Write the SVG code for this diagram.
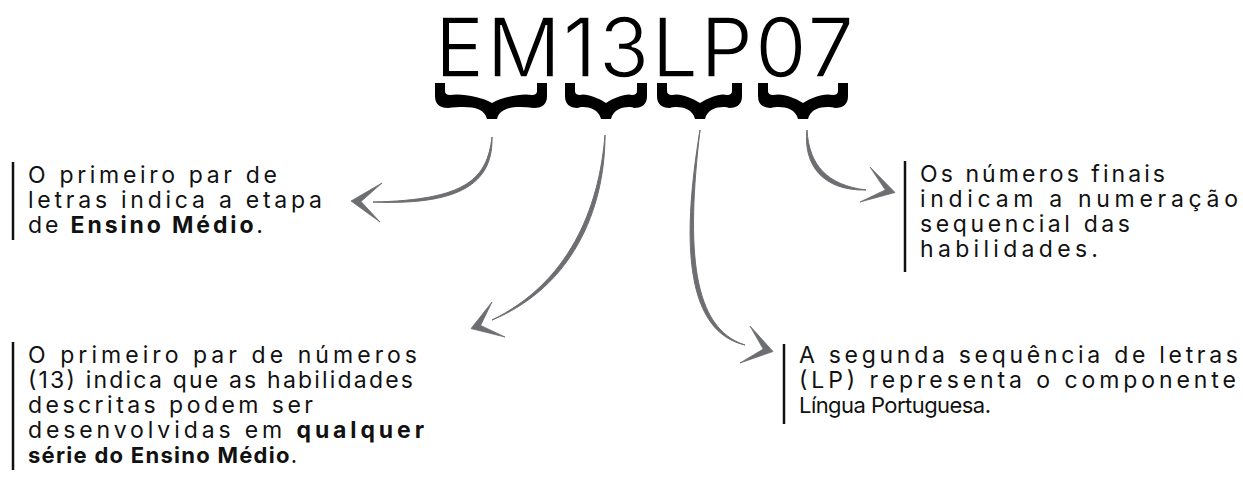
<svg xmlns="http://www.w3.org/2000/svg" width="1243" height="477" viewBox="0 0 1243 477">
  <style>
    .t { font-family: "Inter", "Liberation Sans", sans-serif; font-size: 23px; fill: #111; }
    .b { font-weight: 700; }
    .s { font-size: 22px; }
    .title { font-family: "Inter", "Liberation Sans", sans-serif; font-size: 82px; fill: #000; stroke: #fff; stroke-width: 1.6; }
    .brace { fill: #000; }
    .bar { stroke: #111; stroke-width: 2.5; }
    .shaft { fill: #6d6e71; stroke: #6d6e71; stroke-width: 1; stroke-linejoin: round; }
    .head { fill: #6d6e71; stroke: #6d6e71; stroke-width: 0.8; stroke-linejoin: round; }
  </style>
  <rect width="1243" height="477" fill="#fff"/>

  <g id="title">
    <text class="title" x="435" y="77" textLength="419" lengthAdjust="spacing">EM13LP07</text>
  </g>

  <g id="braces">
    <path class="brace" d="M435 83 H445 V91 Q445 95 450 95 C462 93 482 97 492 103 C502 97 522 93 532 95 Q537 95 537 91 V83 H547 V96 Q547 108 534 108 C517 106 500 106 497 119 H487 C484 106 467 106 448 108 Q435 108 435 96 Z"/>
    <path class="brace" d="M565 83 H575 V91 Q575 95 580 95 C585 93 597 97 606 103 C615 97 627 93 632 95 Q637 95 637 91 V83 H647 V96 Q647 108 634 108 C631 106 614 106 611 119 H601 C598 106 581 106 578 108 Q565 108 565 96 Z"/>
    <path class="brace" d="M657 83 H667 V91 Q667 95 672 95 C680 93 690 97 700 103 C710 97 720 93 727 95 Q732 95 732 91 V83 H742 V96 Q742 108 729 108 C725 106 708 106 705 119 H695 C692 106 675 106 670 108 Q657 108 657 96 Z"/>
    <path class="brace" d="M758 83 H768 V91 Q768 95 773 95 C783 93 793 97 803 103 C813 97 823 93 833 95 Q838 95 838 91 V83 H848 V96 Q848 108 835 108 C828 106 811 106 808 119 H798 C795 106 778 106 771 108 Q758 108 758 96 Z"/>
  </g>

  <g id="connectors">
    <path class="shaft" d="M492 137 C493 178 468 206 373 202 C468 200 487 178 492 137 Z"/>
    <path class="head" d="M382 183 L351 201 L380 222 L361 201.5 Z"/>

    <path class="shaft" d="M605 135 C605 210 572 287 492 320 C568 283 599 210 605 135 Z"/>
    <path class="head" d="M492 302 L471 328.6 L505 337 L480.6 325.4 Z"/>

    <path class="shaft" d="M700 130 C680 250 688 332 745 345 C692 328 686 250 700 130 Z"/>
    <path class="head" d="M750 326 L773 351.5 L740 363 L763.2 349.1 Z"/>

    <path class="shaft" d="M807 130 C803 165 823 191 866 190 C827 185 809 165 807 130 Z"/>
    <path class="head" d="M870 167 L895 192.5 L860 202 L885.3 189.9 Z"/>
  </g>

  <g id="node-em">
    <line class="bar" x1="13" y1="162" x2="13" y2="240"/>
    <text class="t" x="28" y="183" textLength="249" lengthAdjust="spacing">O primeiro par de</text>
    <text class="t" x="28" y="208" textLength="294" lengthAdjust="spacing">letras indica a etapa</text>
    <text class="t" x="28" y="233" textLength="235" lengthAdjust="spacing">de <tspan class="b">Ensino Médio</tspan>.</text>
  </g>

  <g id="node-07">
    <line class="bar" x1="905" y1="161" x2="905" y2="272"/>
    <text class="t" x="920" y="182" textLength="245" lengthAdjust="spacing">Os números finais</text>
    <text class="t" x="920" y="207" textLength="318" lengthAdjust="spacing">indicam a numeração</text>
    <text class="t" x="920" y="232" textLength="210" lengthAdjust="spacing">sequencial das</text>
    <text class="t" x="920" y="257" textLength="178" lengthAdjust="spacing">habilidades.</text>
  </g>

  <g id="node-13">
    <line class="bar" x1="13" y1="342" x2="13" y2="470"/>
    <text class="t" x="28" y="363" textLength="389" lengthAdjust="spacing">O primeiro par de números</text>
    <text class="t" x="28" y="388" textLength="385" lengthAdjust="spacing">(13) indica que as habilidades</text>
    <text class="t" x="28" y="413" textLength="285" lengthAdjust="spacing">descritas podem ser</text>
    <text class="t" x="28" y="438" textLength="396" lengthAdjust="spacing">desenvolvidas em <tspan class="b">qualquer</tspan></text>
    <text class="t s" x="28" y="463" textLength="269" lengthAdjust="spacing"><tspan class="b">série do Ensino Médio</tspan>.</text>
  </g>

  <g id="node-lp">
    <line class="bar" x1="784" y1="344" x2="784" y2="424"/>
    <text class="t" x="799" y="363" textLength="439" lengthAdjust="spacing">A segunda sequência de letras</text>
    <text class="t" x="799" y="388" textLength="437" lengthAdjust="spacing">(LP) representa o componente</text>
    <text class="t s" x="799" y="413" textLength="192" lengthAdjust="spacing">Língua Portuguesa.</text>
  </g>
</svg>
